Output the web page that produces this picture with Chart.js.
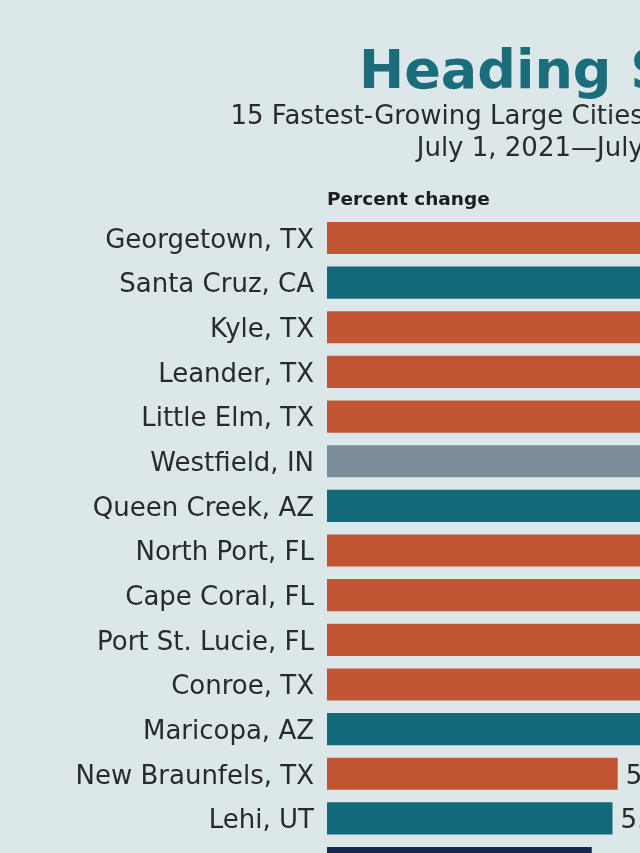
<!DOCTYPE html>
<html>
<head>
<meta charset="utf-8">
<title>Heading South</title>
<script src="https://cdn.jsdelivr.net/npm/chart.js@4/dist/chart.umd.min.js"></script>
<style>
    html, body { margin: 0; padding: 0; }
    body {
        width: 640px;
        height: 853px;
        overflow: hidden;
        background: #dbe7e9;
    }
    #wrap { width: 1168px; height: 914px; }
</style>
</head>
<body>
<div id="wrap"><canvas id="growthChart" width="1168" height="914"></canvas></div>
<script>
// Fastest-growing large cities, percent change July 1, 2021 - July 1, 2022
const cities = [
    'Georgetown, TX', 'Santa Cruz, CA', 'Kyle, TX', 'Leander, TX', 'Little Elm, TX',
    'Westfield, IN', 'Queen Creek, AZ', 'North Port, FL', 'Cape Coral, FL', 'Port St. Lucie, FL',
    'Conroe, TX', 'Maricopa, AZ', 'New Braunfels, TX', 'Lehi, UT', 'Erie, PA'
];
const pctChange = [14.4, 11.6, 10.9, 10.1, 9.1, 8.0, 7.9, 7.5, 6.6, 6.4, 6.3, 6.1, 5.6, 5.5, 5.1];
const regions = [
    'South', 'West', 'South', 'South', 'South',
    'Midwest', 'West', 'South', 'South', 'South',
    'South', 'West', 'South', 'West', 'Northeast'
];
const regionColors = {
    South: '#c25634',
    West: '#136a79',
    Midwest: '#7b8d9b',
    Northeast: '#13294f'
};

Chart.defaults.font.family = '"DejaVu Sans", sans-serif';
Chart.defaults.color = '#2a2a2a';

// value labels at the end of each bar
const valueLabels = {
    id: 'valueLabels',
    afterDatasetsDraw(chart) {
        const ctx = chart.ctx;
        const meta = chart.getDatasetMeta(0);
        ctx.save();
        ctx.font = '26px "DejaVu Sans"';
        ctx.fillStyle = '#2a2a2a';
        ctx.textAlign = 'left';
        ctx.textBaseline = 'middle';
        meta.data.forEach((bar, i) => {
            ctx.fillText(pctChange[i].toFixed(1) + '%', bar.x + 8, bar.y + 3);
        });
        ctx.restore();
    }
};

new Chart(document.getElementById('growthChart'), {
    type: 'bar',
    data: {
        labels: cities,
        datasets: [{
            data: pctChange,
            backgroundColor: regions.map(r => regionColors[r]),
            borderWidth: 0,
            categoryPercentage: 1,
            barPercentage: 0.72
        }]
    },
    options: {
        indexAxis: 'y',
        responsive: false,
        animation: false,
        layout: { padding: { left: 0, right: 0, top: 0, bottom: 15 } },
        plugins: {
            legend: { display: false },
            tooltip: { enabled: false },
            title: {
                display: true,
                text: 'Heading South',
                color: '#1b6d7b',
                font: { size: 54, weight: 'bold', lineHeight: 1.0 },
                padding: { top: 47, bottom: 0 }
            },
            subtitle: {
                display: true,
                text: ['15 Fastest-Growing Large Cities and Towns (50,000+ )', 'July 1, 2021\u2014July 1, 2022'],
                color: '#2b2b2b',
                font: { size: 26, lineHeight: 1.23 },
                padding: { top: 0, bottom: 0 }
            }
        },
        scales: {
            x: {
                position: 'top',
                min: 0,
                max: 16.2,
                grid: { display: false, drawTicks: false },
                border: { display: false },
                ticks: { display: false },
                title: {
                    display: true,
                    text: 'Percent change',
                    align: 'start',
                    color: '#1e1e1e',
                    font: { size: 18.5, weight: 'bold' },
                    padding: { top: 24, bottom: 0 }
                },
                afterFit: (scale) => { scale.height = 50.7; }
            },
            y: {
                grid: { display: false, drawTicks: false },
                border: { display: false },
                ticks: {
                    color: '#2a2a2a',
                    padding: 13,
                    labelOffset: 3,
                    font: { size: 26 }
                },
                afterFit: (scale) => { scale.width = 327; }
            }
        }
    },
    plugins: [valueLabels]
});
</script>
</body>
</html>
